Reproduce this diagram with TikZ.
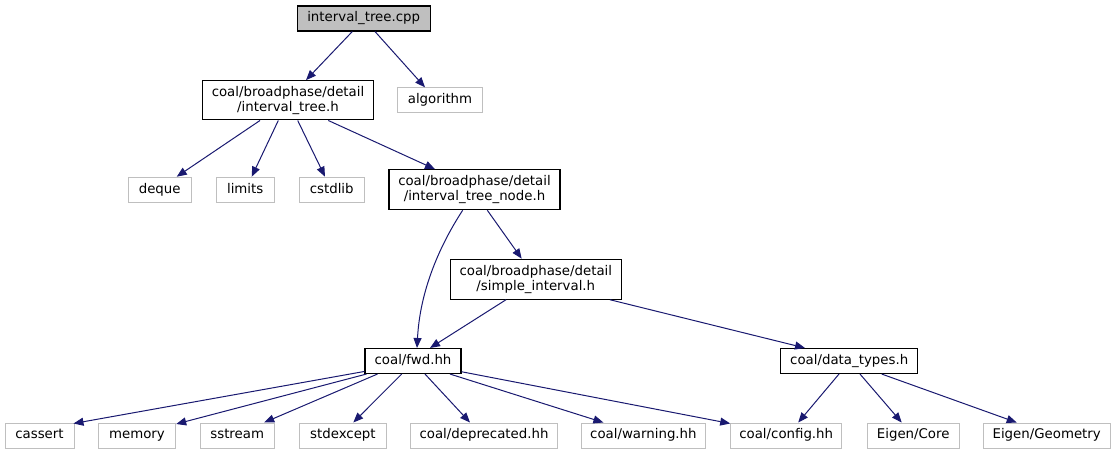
\documentclass[tikz,border=0pt]{standalone}
\usepackage{fontspec}
\setmainfont{DejaVu Sans}
\usetikzlibrary{arrows.meta,calc}
\definecolor{edgeblue}{HTML}{191970}
\definecolor{grayline}{HTML}{BFBFBF}
\definecolor{grayfill}{HTML}{BFBFBF}
\newcommand\pxu{0.75pt}
\tikzset{
  base/.style={rectangle, inner sep=0pt, align=center, minimum height=25*\pxu},
  oneline/.style={text height=7.4pt, text depth=2.2pt},
  mainnode/.style={base, oneline, draw=black, line width=0.8pt, fill=grayfill},
  hnode/.style={base, oneline, draw=black, line width=0.8pt, fill=white},
  hnode2/.style={base, draw=black, line width=0.8pt, fill=white, minimum height=40*\pxu},
  sysnode/.style={base, oneline, draw=grayline, line width=0.75pt, fill=white},
  wd/.style={minimum width=#1*\pxu},
  dep/.style={draw=edgeblue, line width=0.75pt, -{Triangle[length=7.5pt,width=6pt]}},
}
\begin{document}
\begin{tikzpicture}[x=0.75pt, y=-0.75pt, font=\fontsize{10}{11.5}\selectfont]
\useasboundingbox (0,0) rectangle (1115,455);
% nodes
\node[mainnode, wd=132.7] (cpp) at (363.7,18.5) {interval\_tree.cpp};
\node[hnode2, wd=170.6, minimum height=39.3*\pxu] (ith) at (288,100.3) {coal/broadphase/detail\\/interval\_tree.h};
\node[sysnode, wd=85.4] (alg) at (440,100.3) {algorithm};
\node[sysnode, wd=62.7] (deque) at (159.7,189.7) {deque};
\node[sysnode, wd=58.3] (limits) at (245.2,189.7) {limits};
\node[sysnode, wd=65.3] (cstdlib) at (331.7,189.7) {cstdlib};
\node[hnode2, wd=171] (itn) at (474.5,189.7) {coal/broadphase/detail\\/interval\_tree\_node.h};
\node[hnode2, wd=170.5] (si) at (535.8,279.2) {coal/broadphase/detail\\/simple\_interval.h};
\node[hnode, wd=96] (fwd) at (413,361) {coal/fwd.hh};
\node[hnode, wd=137] (dt) at (849.2,361) {coal/data\_types.h};
\node[sysnode, wd=69] (cassert) at (39.5,435.5) {cassert};
\node[sysnode, wd=77.4] (memory) at (137,435.5) {memory};
\node[sysnode, wd=74.3] (sstream) at (237.2,435.5) {sstream};
\node[sysnode, wd=87] (stdexcept) at (342.9,435.5) {stdexcept};
\node[sysnode, wd=146.6] (depr) at (484,435.5) {coal/deprecated.hh};
\node[sysnode, wd=124.7] (warn) at (643.4,435.5) {coal/warning.hh};
\node[sysnode, wd=111] (config) at (786.2,435.5) {coal/config.hh};
\node[sysnode, wd=91.7] (core) at (913.2,435.5) {Eigen/Core};
\node[sysnode, wd=126.7] (geom) at (1046.7,435.5) {Eigen/Geometry};
% edges
\draw[dep] ($(cpp.south)+(-11.4,0)$) -- ($(ith.north)+(18,0)$);
\draw[dep] ($(cpp.south)+(11.3,0)$) -- ($(alg.north)+(-15,0)$);
\draw[dep] ($(ith.south)+(-28,0)$) -- ($(deque.north)+(17,0)$);
\draw[dep] ($(ith.south)+(-9.7,0)$) -- ($(limits.north)+(6.5,0)$);
\draw[dep] ($(ith.south)+(9.7,0)$) -- ($(cstdlib.north)+(-6.7,0)$);
\draw[dep] ($(ith.south)+(40.3,0)$) -- ($(itn.north)+(-39.5,0)$);
\draw[dep] ($(itn.south)+(-11.8,0)$) .. controls (440,245) and (420,290) .. ($(fwd.north)+(4,0)$);
\draw[dep] ($(itn.south)+(12.8,0)$) -- ($(si.north)+(-14.1,0)$);
\draw[dep] ($(si.south)+(-29.8,0)$) -- ($(fwd.north)+(17,0)$);
\draw[dep] ($(si.south)+(74.2,0)$) -- ($(dt.north)+(-44.2,0)$);
\draw[dep] ($(fwd.south west)+(0,-2.6)$) -- ($(cassert.north east)+(-1,1)$);
\draw[dep] ($(fwd.south west)+(2,0)$) -- ($(memory.north east)+(0,1.5)$);
\draw[dep] ($(fwd.south west)+(13,0)$) -- ($(sstream.north)+(27,0)$);
\draw[dep] ($(fwd.south)+(-11.3,0)$) -- ($(stdexcept.north)+(10.4,0)$);
\draw[dep] ($(fwd.south)+(12,0)$) -- ($(depr.north)+(-14,0)$);
\draw[dep] ($(fwd.south)+(37,0)$) -- ($(warn.north)+(-40,0)$);
\draw[dep] ($(fwd.south east)+(0,-2.3)$) -- ($(config.north west)+(0,1)$);
\draw[dep] ($(dt.south)+(-10.2,0)$) -- ($(config.north)+(12,0)$);
\draw[dep] ($(dt.south)+(10.8,0)$) -- ($(core.north)+(-11.5,0)$);
\draw[dep] ($(dt.south)+(32.5,0)$) -- ($(geom.north)+(-30,0)$);
\end{tikzpicture}
\end{document}
